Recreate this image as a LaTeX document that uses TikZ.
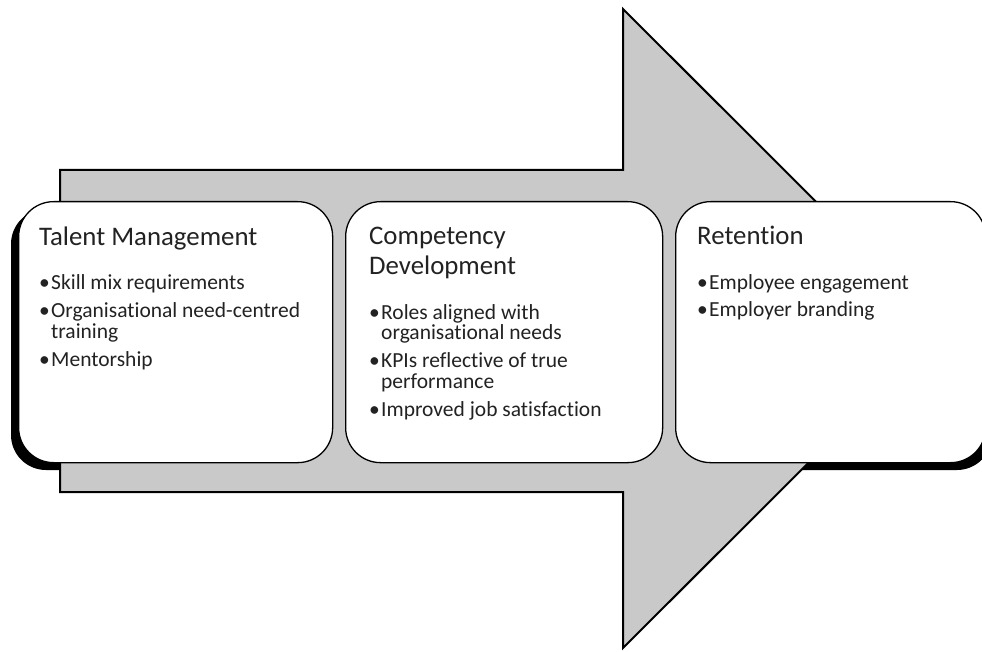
\documentclass[tikz,border=0pt]{standalone}
\usepackage{fontspec}
\setmainfont{Carlito}[Ligatures=NoCommon]
\definecolor{arrowgray}{RGB}{201,201,201}
\definecolor{inkgray}{RGB}{34,34,34}
\tikzset{
  card/.style={draw=black, line width=1.3pt, fill=white, rounded corners=35pt,
    minimum height=261pt, anchor=north west, inner sep=0pt},
  cardshadow/.style={fill=black, rounded corners=35pt},
  bigarrow/.style={draw=black, line width=2pt, fill=arrowgray, line join=miter},
  cardtext/.style={anchor=base west, inner sep=0pt, text=inkgray},
}
% bullet paragraph with hanging indent
\newcommand\bitem[1]{\par\hangindent=12pt\hangafter=1\noindent\makebox[12pt][l]{\textbullet}#1\par}
% card body: title lines, then the bullet list
\newcommand\cardbody[2]{%
  \begin{minipage}[t]{290pt}\raggedright
  \fontsize{26.8}{30}\selectfont #1\par
  \vspace{16pt}%
  \fontsize{21.5}{21}\selectfont\parskip=7pt
  #2
  \end{minipage}}
\begin{document}
\begin{tikzpicture}[x=1pt, y=-1pt]
\useasboundingbox (0,0) rectangle (982,652);

% shadows sit beneath the arrow
\fill[cardshadow] (11,209) rectangle (325,470);
\fill[cardshadow] (345,209) rectangle (662,470);
\fill[cardshadow] (682,210) rectangle (992,470);

% the big arrow
\draw[bigarrow] (60,170) -- (623,170) -- (623,9) -- (943,328.5)
  -- (623,648) -- (623,492) -- (60,492) -- cycle;

% cards
\node[card, minimum width=314pt] (talent) at (18,201) {};
\node[card, minimum width=317pt] (competency) at (345,201) {};
\node[card, minimum width=310pt] (retention) at (675,201) {};

\node[cardtext] (talenttxt) at (39,246) {\cardbody{Talent Management}{%
  \bitem{Skill mix requirements}
  \bitem{Organisational need-centred\newline training}
  \bitem{Mentorship}}};

\node[cardtext] (competencytxt) at (369,245) {\cardbody{Competency\newline Development}{%
  \bitem{Roles aligned with\newline organisational needs}
  \bitem{KPIs reflective of true\newline performance}
  \bitem{Improved job satisfaction}}};

\node[cardtext] (retentiontxt) at (697,245) {\cardbody{Retention}{%
  \bitem{Employee engagement}
  \bitem{Employer branding}}};
\end{tikzpicture}
\end{document}
